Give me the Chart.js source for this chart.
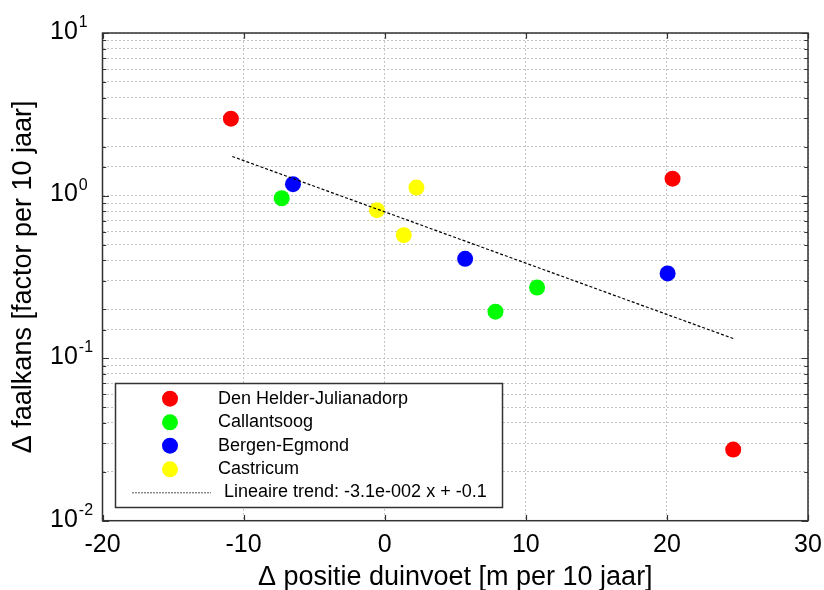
<!DOCTYPE html>
<html>
<head>
<meta charset="utf-8">
<script src="https://cdn.jsdelivr.net/npm/chart.js@4/dist/chart.umd.min.js"></script>
<style>
  html, body { margin: 0; padding: 0; background: #fff; }
</style>
</head>
<body>
<canvas id="myChart" width="824" height="590"></canvas>
<script>
// data
const seriesNames = ["Den Helder-Julianadorp", "Callantsoog", "Bergen-Egmond", "Castricum"];
const seriesColors = ["#ff0000", "#00ff00", "#0000ff", "#ffff00"];

const denHelderX = [-10.9, 20.4, 24.7];
const denHelderY = [2.97, 1.27, 0.0274];
const callantsoogX = [-7.3, 7.85, 10.8];
const callantsoogY = [0.963, 0.193, 0.272];
const bergenX = [-6.5, 5.7, 20.05];
const bergenY = [1.175, 0.408, 0.332];
const castricumX = [-0.55, 1.35, 2.25];
const castricumY = [0.813, 0.571, 1.12];

const trendLabel = "Lineaire trend: -3.1e-002 x + -0.1";
const trendX = [-10.8, 24.7];
const trendY = [1.74, 0.132];

const xTicks = [-20, -10, 0, 10, 20, 30];
const yTicks = [0.01, 0.1, 1, 10];
const yExponents = ["-2", "-1", "0", "1"];

const xTitle = "\u0394 positie duinvoet [m per 10 jaar]";
const yTitle = "\u0394 faalkans [factor per 10 jaar]";

const FONT = "Arial, 'Liberation Sans', sans-serif";

const toPoints = (xs, ys) => xs.map((x, i) => ({ x: x, y: ys[i] }));
const allX = [denHelderX, callantsoogX, bergenX, castricumX];
const allY = [denHelderY, callantsoogY, bergenY, castricumY];

const datasets = seriesNames.map((name, i) => ({
    label: name,
    data: toPoints(allX[i], allY[i]),
    backgroundColor: seriesColors[i],
    borderColor: seriesColors[i],
    pointRadius: 8,
    pointHoverRadius: 8,
    borderWidth: 0,
    order: 1,
}));
datasets.push({
    type: "line",
    label: trendLabel,
    data: toPoints(trendX, trendY),
    borderColor: "#000",
    borderWidth: 1.2,
    borderDash: [3, 2],
    pointRadius: 0,
    fill: false,
    order: 0,
});

// frame, tick marks, "10^n" labels and legend box
const decorations = {
    id: "decorations",
    afterDatasetsDraw(chart) {
        const { ctx, chartArea: { left, top, right, bottom }, scales: { x, y } } = chart;
        ctx.save();

        // y tick marks (left + right, inward)
        ctx.strokeStyle = "#333";
        ctx.lineWidth = 1.2;
        y.ticks.forEach((t) => {
            const py = Math.round(y.getPixelForValue(t.value)) + 0.5;
            const major = yTicks.includes(t.value);
            const len = major ? 6.5 : 3.7;
            ctx.beginPath();
            ctx.moveTo(left, py); ctx.lineTo(left + len, py);
            ctx.moveTo(right, py); ctx.lineTo(right - len, py);
            ctx.stroke();
        });
        // x tick marks (top + bottom, inward)
        xTicks.forEach((v) => {
            const px = Math.round(x.getPixelForValue(v)) + 0.5;
            ctx.beginPath();
            ctx.moveTo(px, top); ctx.lineTo(px, top + 5.7);
            ctx.moveTo(px, bottom); ctx.lineTo(px, bottom - 5.7);
            ctx.stroke();
        });

        // frame
        ctx.lineWidth = 1.5;
        ctx.strokeRect(left, top, right - left, bottom - top);

        // y labels 10^n
        ctx.fillStyle = "#000";
        yTicks.forEach((v, i) => {
            const py = y.getPixelForValue(v);
            ctx.font = "25px " + FONT;
            ctx.textAlign = "left";
            ctx.textBaseline = "middle";
            ctx.fillText("10", 50, py - 1);
            const w = ctx.measureText("10").width;
            ctx.font = "16px " + FONT;
            ctx.textBaseline = "alphabetic";
            ctx.fillText(yExponents[i], 50 + w + 1, py - 6);
        });

        // legend
        const lx = 115.5, ly = 383.5, lw = 387, lh = 124;
        ctx.fillStyle = "#fff";
        ctx.fillRect(lx, ly, lw, lh);
        ctx.strokeStyle = "#333";
        ctx.lineWidth = 1.5;
        ctx.strokeRect(lx, ly, lw, lh);
        const rows = [398.7, 422.3, 445.7, 469.3, 492.3];
        ctx.font = "18px " + FONT;
        ctx.textBaseline = "middle";
        ctx.textAlign = "left";
        seriesNames.forEach((name, i) => {
            ctx.fillStyle = seriesColors[i];
            ctx.beginPath();
            ctx.arc(170, rows[i], 8, 0, Math.PI * 2);
            ctx.fill();
            ctx.fillStyle = "#000";
            ctx.fillText(name, 218, rows[i]);
        });
        ctx.strokeStyle = "#555";
        ctx.lineWidth = 1;
        ctx.setLineDash([2, 1]);
        ctx.beginPath();
        ctx.moveTo(132, rows[4] + 0.5);
        ctx.lineTo(211, rows[4] + 0.5);
        ctx.stroke();
        ctx.setLineDash([]);
        ctx.fillStyle = "#000";
        ctx.fillText(trendLabel, 224, rows[4]);

        ctx.restore();
    },
};

const config = {
    type: "scatter",
    data: { datasets },
    options: {
        responsive: false,
        animation: false,
        events: [],
        layout: { padding: { left: 0, right: 16, top: 33, bottom: 0 } },
        plugins: {
            legend: { display: false },
            tooltip: { enabled: false },
        },
        scales: {
            x: {
                type: "linear",
                min: -20,
                max: 30,
                afterBuildTicks(scale) {
                    scale.ticks = xTicks.map((v) => ({ value: v }));
                },
                afterFit(scale) {
                    scale.height = 69.3;
                    scale.paddingLeft = 0;
                    scale.paddingRight = 0;
                },
                ticks: {
                    color: "#000",
                    font: { family: FONT, size: 25 },
                    padding: 9,
                    maxRotation: 0,
                    autoSkip: false,
                },
                grid: {
                    color: "#c4c4c4",
                    lineWidth: 1,
                    drawTicks: false,
                },
                border: { display: false, dash: [2, 2] },
                title: {
                    display: true,
                    text: xTitle,
                    color: "#000",
                    font: { family: FONT, size: 27, lineHeight: 0.95 },
                    padding: 0,
                },
            },
            y: {
                type: "logarithmic",
                min: 0.01,
                max: 10,
                afterFit(scale) {
                    scale.width = 102.5;
                    scale.paddingTop = 0;
                    scale.paddingBottom = 0;
                },
                ticks: { display: false, autoSkip: false },
                grid: {
                    color: "#c4c4c4",
                    lineWidth: 1,
                    drawTicks: false,
                },
                border: { display: false, dash: [2, 2] },
                title: {
                    display: true,
                    text: yTitle,
                    color: "#000",
                    font: { family: FONT, size: 27 },
                    padding: { top: 7, bottom: 0 },
                },
            },
        },
    },
    plugins: [decorations],
};

const myChart = new Chart(document.getElementById("myChart"), config);
</script>
</body>
</html>
